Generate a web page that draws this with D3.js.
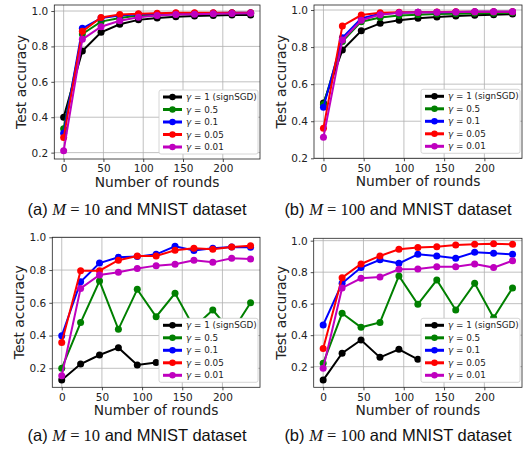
<!DOCTYPE html>
<html>
<head>
<meta charset="utf-8">
<script src="https://cdn.jsdelivr.net/npm/d3@7"></script>
<style>
  body { margin: 0; background: #fff; }
  svg { display: block; }
</style>
</head>
<body>
<svg id="chart" width="523" height="454"></svg>
<script>
// communication rounds on the x axis
const rounds = [0, 23.5, 47, 70.5, 94, 117.5, 141, 164.5, 188, 211.5, 235];

const seriesGamma = ['1 (signSGD)', '0.5', '0.1', '0.05', '0.01'];
const seriesColors = ['#000000', '#008000', '#0000ff', '#ff0000', '#bf00bf'];

const xTicks = [0, 50, 100, 150, 200];
const yTicks = [0.2, 0.4, 0.6, 0.8, 1.0];

// top row, (a) M = 10
const accA1 = [
  [0.40, 0.774, 0.88, 0.925, 0.95, 0.96, 0.968, 0.972, 0.975, 0.977, 0.978],
  [0.335, 0.87, 0.94, 0.96, 0.975, 0.98, 0.983, 0.985, 0.986, 0.987, 0.988],
  [0.31, 0.902, 0.96, 0.975, 0.982, 0.985, 0.987, 0.988, 0.989, 0.99, 0.99],
  [0.285, 0.885, 0.964, 0.98, 0.985, 0.988, 0.99, 0.99, 0.99, 0.99, 0.99],
  [0.21, 0.84, 0.911, 0.945, 0.965, 0.975, 0.98, 0.982, 0.985, 0.986, 0.987]
];
// top row, (b) M = 100
const accB1 = [
  [0.498, 0.784, 0.888, 0.928, 0.945, 0.955, 0.962, 0.968, 0.972, 0.975, 0.978],
  [0.49, 0.83, 0.937, 0.96, 0.97, 0.975, 0.978, 0.98, 0.982, 0.983, 0.985],
  [0.475, 0.85, 0.955, 0.98, 0.985, 0.988, 0.988, 0.989, 0.99, 0.99, 0.99],
  [0.362, 0.914, 0.973, 0.985, 0.988, 0.988, 0.989, 0.99, 0.99, 0.99, 0.99],
  [0.313, 0.838, 0.945, 0.975, 0.985, 0.988, 0.988, 0.989, 0.99, 0.99, 0.99]
];
// bottom row, (a) M = 10
const accA2 = [
  [0.128, 0.226, 0.281, 0.326, 0.22, 0.236, 0.26, 0.24, 0.28, 0.25, 0.27],
  [0.20, 0.479, 0.733, 0.438, 0.682, 0.515, 0.658, 0.45, 0.556, 0.42, 0.60],
  [0.399, 0.729, 0.843, 0.878, 0.882, 0.896, 0.945, 0.92, 0.933, 0.941, 0.939],
  [0.358, 0.796, 0.796, 0.86, 0.886, 0.886, 0.921, 0.933, 0.927, 0.941, 0.949],
  [0.155, 0.688, 0.77, 0.786, 0.81, 0.827, 0.835, 0.86, 0.847, 0.872, 0.868]
];
// bottom row, (b) M = 100
const accB2 = [
  [0.115, 0.285, 0.369, 0.259, 0.31, 0.247, 0.22, 0.27, 0.25, 0.29, 0.27],
  [0.221, 0.539, 0.45, 0.481, 0.776, 0.596, 0.75, 0.56, 0.729, 0.511, 0.70],
  [0.465, 0.729, 0.829, 0.879, 0.856, 0.913, 0.903, 0.888, 0.926, 0.92, 0.913],
  [0.316, 0.765, 0.852, 0.903, 0.945, 0.956, 0.962, 0.972, 0.977, 0.981, 0.977],
  [0.19, 0.70, 0.761, 0.769, 0.818, 0.82, 0.835, 0.835, 0.852, 0.829, 0.873]
];

const captionA = { tag: '(a) ', m: '10' };
const captionB = { tag: '(b) ', m: '100' };

// panel boxes in page pixels
const panels = [
  { data: accA1, box: [54.3, 5, 260, 159], y: [0.164, 1.034] },
  { data: accB1, box: [314, 5, 522, 158.3], y: [0.2, 1.027] },
  { data: accA2, box: [52.3, 237.3, 260, 387.3], y: [0.084, 1.0] },
  { data: accB2, box: [313.7, 238.3, 522, 387.3], y: [0.069, 1.015] }
];
const captions = [
  { c: captionA, x: 137, y: 215 },
  { c: captionB, x: 398, y: 215 },
  { c: captionA, x: 137, y: 441 },
  { c: captionB, x: 398, y: 441 }
];

const svg = d3.select('#chart');
const sans = 'DejaVu Sans, sans-serif';

panels.forEach(p => {
  const [x0, y0, x1, y1] = p.box;
  const x = d3.scaleLinear().domain([-11.75, 246.75]).range([x0, x1]);
  const y = d3.scaleLinear().domain(p.y).range([y1, y0]);
  const g = svg.append('g');

  const clipId = 'clip' + Math.round(x0) + Math.round(y0);
  g.append('clipPath').attr('id', clipId)
    .append('rect').attr('x', x0).attr('y', y0).attr('width', x1 - x0).attr('height', y1 - y0);

  // grid
  g.append('g').selectAll('line.gx').data(xTicks).join('line')
    .attr('x1', d => x(d)).attr('x2', d => x(d)).attr('y1', y0).attr('y2', y1)
    .attr('stroke', '#b0b0b0').attr('stroke-width', 0.8);
  g.append('g').selectAll('line.gy').data(yTicks.filter(t => t >= p.y[0] && t <= p.y[1])).join('line')
    .attr('x1', x0).attr('x2', x1).attr('y1', d => y(d)).attr('y2', d => y(d))
    .attr('stroke', '#b0b0b0').attr('stroke-width', 0.8);

  // axes
  const xAxis = d3.axisBottom(x).tickValues(xTicks).tickSize(3).tickPadding(3).tickFormat(d3.format('d'));
  const yAxis = d3.axisLeft(y).tickValues(yTicks.filter(t => t >= p.y[0] - 1e-9 && t <= p.y[1])).tickSize(3).tickPadding(3).tickFormat(d3.format('.1f'));
  const gx = g.append('g').attr('transform', `translate(0,${y1})`).call(xAxis);
  const gy = g.append('g').attr('transform', `translate(${x0},0)`).call(yAxis);
  [gx, gy].forEach(a => {
    a.select('.domain').remove();
    a.selectAll('text').attr('font-family', sans).attr('font-size', 10.5).attr('fill', '#222');
    a.selectAll('line').attr('stroke', '#222').attr('stroke-width', 0.8);
  });

  // series
  const lines = g.append('g').attr('clip-path', `url(#${clipId})`);
  const line = d3.line().x((d, i) => x(rounds[i])).y(d => y(d));
  p.data.forEach((vals, k) => {
    lines.append('path').attr('d', line(vals))
      .attr('fill', 'none').attr('stroke', seriesColors[k]).attr('stroke-width', 2);
    lines.append('g').selectAll('circle').data(vals).join('circle')
      .attr('cx', (d, i) => x(rounds[i])).attr('cy', d => y(d)).attr('r', 3.5)
      .attr('fill', seriesColors[k]);
  });

  // frame
  g.append('rect').attr('x', x0).attr('y', y0).attr('width', x1 - x0).attr('height', y1 - y0)
    .attr('fill', 'none').attr('stroke', '#222').attr('stroke-width', 0.8);

  // labels
  g.append('text').attr('transform', `translate(${x0 - 32},${(y0 + y1) / 2}) rotate(-90)`)
    .attr('text-anchor', 'middle').attr('dominant-baseline', 'middle')
    .attr('font-family', sans).attr('font-size', 13.8).attr('fill', '#222')
    .text('Test accuracy');
  g.append('text').attr('x', (x0 + x1) / 2).attr('y', y1 + 24)
    .attr('text-anchor', 'middle').attr('dominant-baseline', 'middle')
    .attr('font-family', sans).attr('font-size', 13.8).attr('fill', '#222')
    .text('Number of rounds');

  // legend
  const lw = 99, lh = 64;
  const lx = x1 - 2 - lw, ly = y1 - 5 - lh;
  const leg = g.append('g');
  leg.append('rect').attr('x', lx).attr('y', ly).attr('width', lw).attr('height', lh)
    .attr('rx', 2).attr('fill', '#fff')
    .attr('stroke', '#ccc').attr('stroke-width', 0.8);
  seriesGamma.forEach((lab, k) => {
    const ry = ly + 7 + k * 12.5;
    leg.append('line').attr('x1', lx + 4).attr('x2', lx + 23).attr('y1', ry).attr('y2', ry)
      .attr('stroke', seriesColors[k]).attr('stroke-width', 3);
    leg.append('circle').attr('cx', lx + 13.5).attr('cy', ry).attr('r', 3.2).attr('fill', seriesColors[k]);
    const t = leg.append('text').attr('x', lx + 27).attr('y', ry)
      .attr('dominant-baseline', 'middle').attr('font-family', sans)
      .attr('font-size', 8.8).attr('fill', '#222');
    t.append('tspan').attr('font-style', 'italic').text('γ');
    t.append('tspan').text(' = ' + lab);
  });
});

captions.forEach(cp => {
  const t = svg.append('text').attr('x', cp.x).attr('y', cp.y)
    .attr('text-anchor', 'middle').attr('font-size', 16.5).attr('fill', '#111')
    .attr('font-family', 'Liberation Sans, Arial, sans-serif');
  t.append('tspan').text(cp.c.tag);
  t.append('tspan').attr('font-family', 'Liberation Serif, serif').attr('font-style', 'italic').text('M');
  t.append('tspan').attr('font-family', 'Liberation Serif, serif').text(' = ' + cp.c.m);
  t.append('tspan').text(' and MNIST dataset');
});
</script>
</body>
</html>
